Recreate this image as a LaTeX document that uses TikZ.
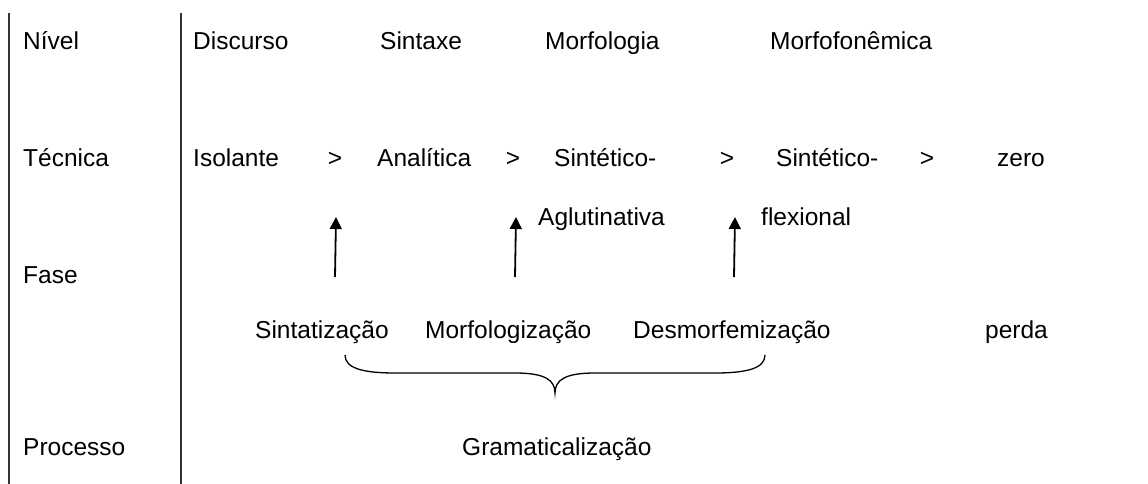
\documentclass[tikz,border=0pt]{standalone}
\usepackage{fontspec}
\setmainfont{Liberation Sans}
\usetikzlibrary{arrows.meta}
\begin{document}
\begin{tikzpicture}[x=1pt,y=-1pt,every path/.style={>={Triangle[length=12pt,width=12pt]}},every node/.style={anchor=base west,inner sep=0pt,font=\fontsize{24.5}{29}\selectfont}]
		\useasboundingbox (0,0) rectangle (1148,484);
		% column rules
		\draw[line width=2pt,black!80] (9,13) -- (9,484);
		\draw[line width=2pt,black!80] (181,13) -- (181,484);
		
		% labels
		\node (nivel) at (23,50) {Nível};
		\node (tecnica) at (23,166) {Técnica};
		\node (fase) at (23,283) {Fase};
		\node (processo) at (23,455) {Processo};
		
		\node (discurso) at (193,50) {Discurso};
		\node (sintaxe) at (380,50) {Sintaxe};
		\node (morfologia) at (545,50) {Morfologia};
		\node (morfofonemica) at (770,50) {Morfofonêmica};
		
		\node (isolante) at (193,166) {Isolante};
		\node[anchor=base] (gt-1) at (335,166) {>};
		\node (analitica) at (377,166) {Analítica};
		\node[anchor=base] (gt-2) at (513,166) {>};
		\node (sint-aglut) at (554,166) {Sintético-};
		\node[anchor=base] (gt-3) at (727,166) {>};
		\node (sint-flex) at (776,166) {Sintético-};
		\node[anchor=base] (gt-4) at (927,166) {>};
		\node (zero) at (997,166) {zero};
		\node (aglutinativa) at (538,225) {Aglutinativa};
		\node (flexional) at (761,225) {flexional};
		
		\node (sintatizacao) at (255,338) {Sintatização};
		\node (morfologizacao) at (425,338) {Morfologização};
		\node (desmorfemizacao) at (633,338) {Desmorfemização};
		\node (perda) at (985,338) {perda};
		\node (gramaticalizacao) at (462,455) {Gramaticalização};
		
		\coordinate (up-1) at (335,277);
		\coordinate (up-2) at (515,277);
		\coordinate (up-3) at (734,277);
		\coordinate (tip-1) at (336,217);
		\coordinate (tip-2) at (516,217);
		\coordinate (tip-3) at (735,217);
		\draw[->,line width=1.8pt] (up-1) -- (tip-1);
		\draw[->,line width=1.8pt] (up-2) -- (tip-2);
		\draw[->,line width=1.8pt] (up-3) -- (tip-3);
		
		% brace
		\coordinate (br-l) at (345,355);
		\coordinate (br-m) at (555,393);
		\coordinate (br-r) at (765,355);
		\draw[line width=1.3pt] (br-l) .. controls (345,368) and (362,373) .. (395,373) -- (515,373) .. controls (545,373) and (555,380) .. (br-m)
			.. controls (555,380) and (565,373) .. (595,373) -- (715,373) .. controls (748,373) and (765,368) .. (br-r);
	\end{tikzpicture}
\end{document}
